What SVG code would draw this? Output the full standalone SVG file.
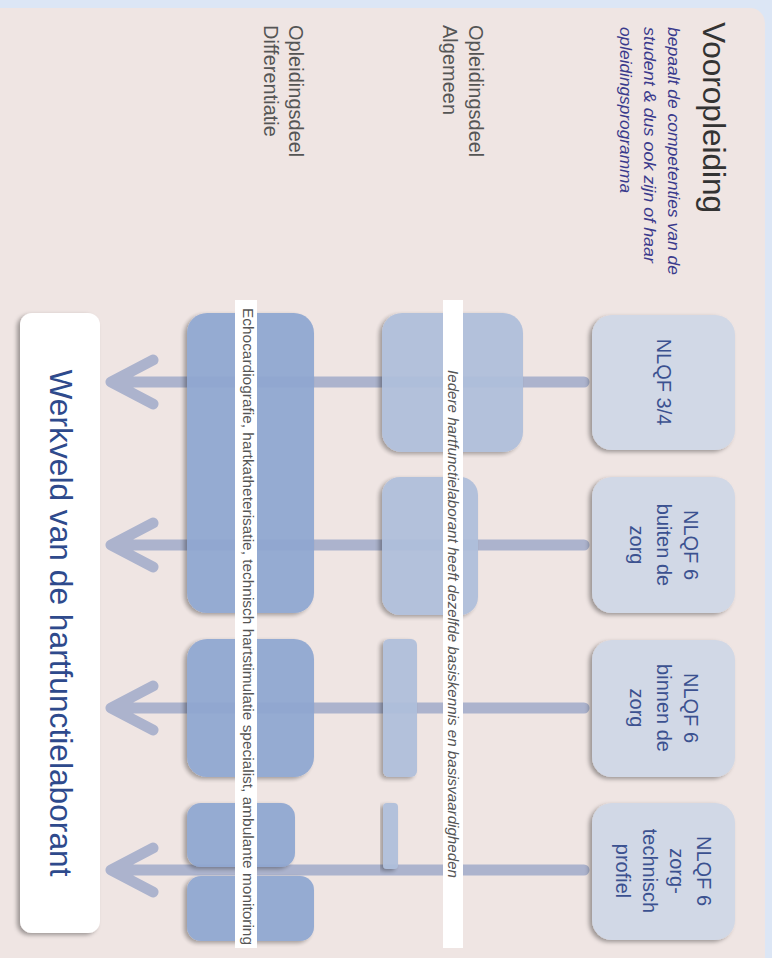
<svg xmlns="http://www.w3.org/2000/svg" width="772" height="958" viewBox="0 0 772 958">
<defs>
<filter id="sh" x="-20%" y="-20%" width="140%" height="140%">
<feDropShadow dx="-3" dy="2" stdDeviation="2" flood-color="#000" flood-opacity="0.35"/>
</filter>
<style>
.t{font-family:"Liberation Sans",Arial,sans-serif}
.lab{font-size:20px;fill:#555}
.nl{font-size:20px;fill:#3b5190;text-anchor:middle}
.conn{stroke:#acb3cd;stroke-width:11;stroke-linecap:round;stroke-linejoin:round;fill:none}
.src{fill:#d1d8e6;filter:url(#sh)}
.alg{fill:#afbfdb;opacity:0.93;filter:url(#sh)}
.dif{fill:#8fa7d1;opacity:0.93;filter:url(#sh)}
.strip{fill:#fff}
</style>
</defs>
<rect x="0" y="0" width="772" height="958" fill="#dce6f5"/>
<rect x="-20" y="8" width="785" height="980" rx="15" fill="#efe5e3"/>

<g id="header">
<text class="t" transform="translate(703,22) rotate(90)" font-size="31" fill="#333" textLength="191" lengthAdjust="spacingAndGlyphs">Vooropleiding</text>
<g class="t" font-style="italic" font-size="16" fill="#3a3a8c">
<text transform="translate(668,27) rotate(90)" textLength="248" lengthAdjust="spacingAndGlyphs">bepaalt de competenties van de</text>
<text transform="translate(644,27) rotate(90)" textLength="236" lengthAdjust="spacingAndGlyphs">student &amp; dus ook zijn of haar</text>
<text transform="translate(620,27) rotate(90)" textLength="166" lengthAdjust="spacingAndGlyphs">opleidingsprogramma</text>
</g>
</g>

<g id="label-algemeen" class="t lab">
<text transform="translate(469,25) rotate(90)">Opleidingsdeel</text>
<text transform="translate(443,25) rotate(90)">Algemeen</text>
</g>
<g id="label-differentiatie" class="t lab">
<text transform="translate(289,25) rotate(90)">Opleidingsdeel</text>
<text transform="translate(264,25) rotate(90)">Differentiatie</text>
</g>

<g id="connectors">
<path class="conn" d="M584,382 H112 M153,360 L111,382 L153,404"/>
<path class="conn" d="M584,545 H112 M153,523 L111,545 L153,567"/>
<path class="conn" d="M584,708 H112 M153,686 L111,708 L153,730"/>
<path class="conn" d="M584,870 H112 M153,848 L111,870 L153,892"/>
</g>

<g id="nlqf34">
<rect class="src" x="592" y="315" width="143" height="135" rx="20"/>
<text class="t nl" transform="translate(657,382) rotate(90)">NLQF 3/4</text>
</g>
<g id="nlqf6-buiten">
<rect class="src" x="592" y="477" width="143" height="136" rx="20"/>
<g class="t nl">
<text transform="translate(684,545) rotate(90)">NLQF 6</text>
<text transform="translate(657,545) rotate(90)">buiten de</text>
<text transform="translate(630,545) rotate(90)">zorg</text>
</g>
</g>
<g id="nlqf6-binnen">
<rect class="src" x="592" y="640" width="143" height="137" rx="20"/>
<g class="t nl">
<text transform="translate(684,708) rotate(90)">NLQF 6</text>
<text transform="translate(657,708) rotate(90)">binnen de</text>
<text transform="translate(630,708) rotate(90)">zorg</text>
</g>
</g>
<g id="nlqf6-zorgtechnisch">
<rect class="src" x="592" y="803" width="143" height="137" rx="20"/>
<g class="t nl">
<text transform="translate(697,871) rotate(90)">NLQF 6</text>
<text transform="translate(670,871) rotate(90)">zorg-</text>
<text transform="translate(643,871) rotate(90)">technisch</text>
<text transform="translate(616,871) rotate(90)">profiel</text>
</g>
</g>

<g id="algemeen">
<rect class="alg" x="382" y="313" width="141" height="139" rx="20"/>
<rect class="alg" x="382" y="477" width="96" height="138" rx="18"/>
<rect class="alg" x="383" y="639" width="34" height="138" rx="6"/>
<rect class="alg" x="383" y="803" width="15" height="66" rx="4"/>
</g>

<g id="differentiatie">
<rect class="dif" x="187" y="313" width="127" height="300" rx="20"/>
<rect class="dif" x="187" y="639" width="127" height="138" rx="20"/>
<rect class="dif" x="187" y="803" width="108" height="64" rx="14"/>
<rect class="dif" x="187" y="876" width="127" height="65" rx="14"/>
</g>

<g id="strip-differentiatie">
<rect class="strip" x="235" y="300" width="22" height="648"/>
<text class="t" transform="translate(243,308) rotate(90)" font-size="14" fill="#555" textLength="637" lengthAdjust="spacingAndGlyphs">Echocardiografie, hartkatheterisatie, technisch hartstimulatie specialist, ambulante monitoring</text>
</g>
<g id="strip-algemeen">
<rect class="strip" x="443" y="300" width="20" height="648"/>
<text class="t" transform="translate(448,370) rotate(90)" font-size="14" font-style="italic" fill="#555" textLength="508" lengthAdjust="spacingAndGlyphs">Iedere hartfunctielaborant heeft dezelfde basiskennis en basisvaardigheden</text>
</g>

<g id="werkveld">
<rect x="20" y="313" width="80" height="620" rx="12" fill="#fff" filter="url(#sh)"/>
<text class="t" transform="translate(50,623) rotate(90)" font-size="31" fill="#2e4a8c" text-anchor="middle" textLength="507" lengthAdjust="spacingAndGlyphs">Werkveld van de hartfunctielaborant</text>
</g>
</svg>
